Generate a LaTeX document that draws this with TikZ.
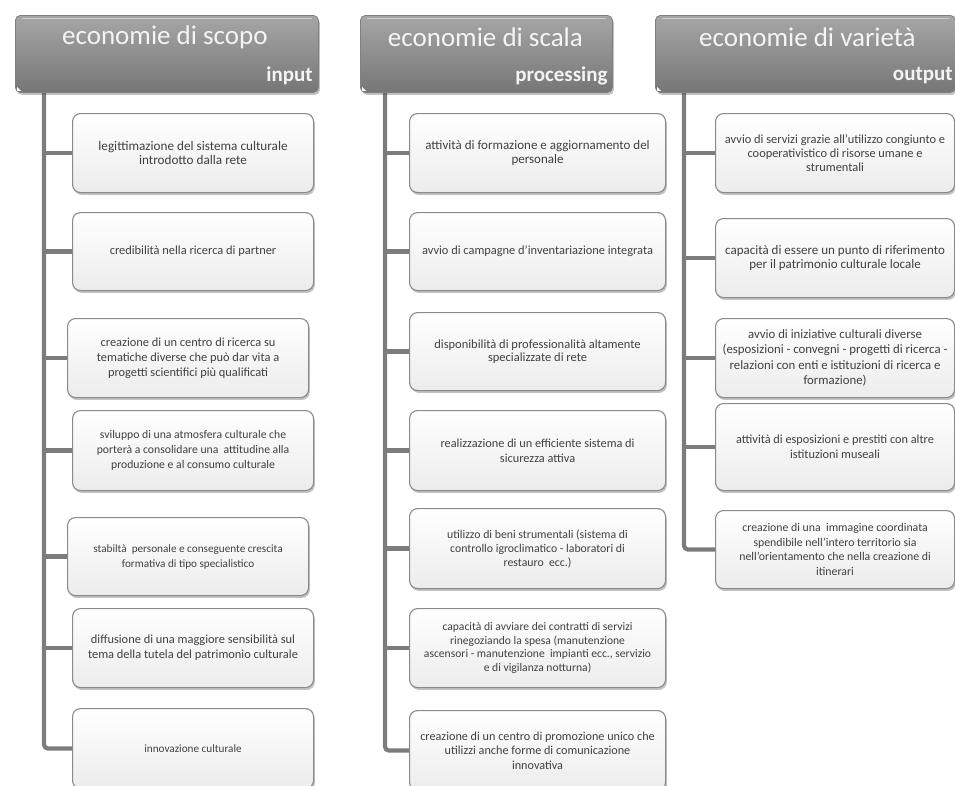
\documentclass[tikz,border=0pt]{standalone}
\usepackage{fontspec}
\setmainfont{Carlito}
\usetikzlibrary{shadows,calc}
\definecolor{boxline}{HTML}{8A8A8A}
\definecolor{boxfill}{HTML}{ECECEC}
\definecolor{txt}{HTML}{404040}
\definecolor{trunkc}{HTML}{7C7C7C}
\definecolor{headtop}{HTML}{A6A6A6}
\definecolor{headmid}{HTML}{838383}
\definecolor{headbot}{HTML}{767676}
\definecolor{headtxt}{HTML}{F4F4F4}
\pgfdeclarelayer{bg}
\pgfsetlayers{bg,main}
\begin{document}
\begin{tikzpicture}[x=1pt,y=-1pt,
  item/.style={draw=boxline, line width=1.1pt, rounded corners=8pt,
    top color=white, bottom color=boxfill,
    drop shadow={shadow xshift=1.3pt, shadow yshift=-2.4pt, opacity=0.35, fill=black!70},
    align=center, text=txt, font=\fontsize{12}{14}\selectfont,
    inner xsep=1pt, inner ysep=2pt, anchor=north west, minimum height=79pt},
  fs/.style 2 args={font=\fontsize{#1}{#2}\selectfont},
  col1/.style={item, minimum width=241pt},
  col2/.style={item, minimum width=256pt},
  col3/.style={item, minimum width=239pt},
  head/.style={draw=black!50, line width=0.8pt, rounded corners=5pt,
    top color=headtop, middle color=headmid, bottom color=headbot,
    drop shadow={shadow xshift=1.5pt, shadow yshift=-2.5pt, opacity=0.35, fill=black!70},
    anchor=north west, minimum height=77pt, inner sep=0pt},
  headtitle/.style={text=headtxt, font=\fontsize{27}{30}\selectfont, inner sep=0pt},
  headsub/.style={text=headtxt, font=\fontsize{21}{24}\selectfont\bfseries, inner sep=0pt, anchor=east},
  trunk/.style={draw=trunkc, line width=4.2pt, rounded corners=4pt},
  stub/.style={draw=trunkc, line width=4.2pt}]

\useasboundingbox (0,0) rectangle (955,785);
\clip (0,0) rectangle (955,785);

% column headers
\node[head, minimum width=303pt] (h1) at (15,15) {};
\node[head, minimum width=252pt] (h2) at (360,15) {};
\node[head, minimum width=300pt] (h3) at (655,15) {};
\foreach \h in {h1,h2,h3}{
  \draw[white, opacity=0.45, line width=1pt]
    ($(\h.north west)+(7,3)$) -- ($(\h.north east)+(-7,3)$);
  \fill[white] ($(\h.south west)+(2,-2)$) -- ++(4,0) -- ++(-4,-4) -- cycle;
}
\node[headtitle] (h1t) at ($(h1.north)+(-2,22)$) {economie di scopo};
\node[headtitle] (h2t) at ($(h2.north)+(-1,22)$) {economie di scala};
\node[headtitle] (h3t) at ($(h3.north)+(2,22)$) {economie di varietà};
\node[headsub] (h1s) at ($(h1.south east)+(-6,-17)$) {input};
\node[headsub] (h2s) at ($(h2.south east)+(-5,-17)$) {processing};
\node[headsub] (h3s) at ($(h3.south east)+(-3,-17)$) {output};

% trunk starting points under the headers
\coordinate (s1) at (44,92);
\coordinate (s2) at (385,92);
\coordinate (s3) at (684,92);

% input column
\node[col1, fs={13.2}{13.5}] (a1) at (72,113) {legittimazione del sistema culturale\\introdotto dalla rete};
\node[col1, fs={12.4}{14}, minimum height=78pt] (a2) at (72,212) {credibilità nella ricerca di partner};
\node[col1, fs={12.4}{15}] (a3) at (67,318) {creazione di un centro di ricerca su\\tematiche diverse che può dar vita a\\progetti scientifici più qualificati};
\node[col1, fs={11.7}{15}, minimum height=80pt] (a4) at (72,410) {sviluppo di una atmosfera culturale che\\porterà a consolidare una\ \ attitudine alla\\produzione e al consumo culturale};
\node[col1, fs={11.2}{15}, minimum height=78pt] (a5) at (67,517) {stabiltà\ \ personale e conseguente crescita\\formativa di tipo specialistico};
\node[col1, fs={12.4}{15}] (a6) at (72,608) {diffusione di una maggiore sensibilità sul\\tema della tutela del patrimonio culturale};
\node[col1, fs={11.2}{14}, minimum height=80pt] (a7) at (72,708) {innovazione culturale};

% processing column
\node[col2, fs={13}{13.5}] (b1) at (409,113) {attività di formazione e aggiornamento del\\personale};
\node[col2, fs={12.4}{14}, minimum height=78pt] (b2) at (409,212) {avvio di campagne d'inventariazione integrata};
\node[col2, fs={12.5}{13.5}, minimum height=78pt] (b3) at (409,312) {disponibilità di professionalità altamente\\specializzate di rete};
\node[col2, fs={12.3}{15}, minimum height=80pt] (b4) at (409,410) {realizzazione di un efficiente sistema di\\sicurezza attiva};
\node[col2, fs={11.8}{14}, minimum height=80pt] (b5) at (409,508) {utilizzo di beni strumentali (sistema di\\controllo igroclimatico - laboratori di\\restauro\ \ ecc.)};
\node[col2, fs={11.6}{13.7}] (b6) at (409,608) {capacità di avviare dei contratti di servizi\\rinegoziando la spesa (manutenzione\\ascensori - manutenzione\ \ impianti ecc., servizio\\e di vigilanza notturna)};
\node[col2, fs={12.2}{14.5}, minimum height=80pt] (b7) at (409,710) {creazione di un centro di promozione unico che\\utilizzi anche forme di comunicazione\\innovativa};

% output column
\node[col3, fs={12.4}{14.2}] (c1) at (715,113) {avvio di servizi grazie all'utilizzo congiunto e\\cooperativistico di risorse umane e\\strumentali};
\node[col3, fs={13}{14.3}] (c2) at (715,218) {capacità di essere un punto di riferimento\\per il patrimonio culturale locale};
\node[col3, fs={12.8}{15.3}] (c3) at (715,318) {avvio di iniziative culturali diverse\\(esposizioni - convegni - progetti di ricerca -\\relazioni con enti e istituzioni di ricerca e\\formazione)};
\node[col3, fs={12.3}{15}, minimum height=87pt] (c4) at (715,403) {attività di esposizioni e prestiti con altre\\istituzioni museali};
\node[col3, fs={11.8}{14.5}, minimum height=78pt] (c5) at (715,510) {creazione di una\ \ immagine coordinata\\spendibile nell'intero territorio sia\\nell'orientamento che nella creazione di\\itinerari};

% connectors: one trunk per column with a stub to each box
\begin{pgfonlayer}{bg}
  \draw[trunk] (s1) |- (a7.west);
  \foreach \n in {a1,a2,a3,a4,a5,a6}{\draw[stub] (s1 |- \n.west) -- (\n.west);}
  \draw[trunk] (s2) |- (b7.west);
  \foreach \n in {b1,b2,b3,b4,b5,b6}{\draw[stub] (s2 |- \n.west) -- (\n.west);}
  \draw[trunk] (s3) |- (c5.west);
  \foreach \n in {c1,c2,c3,c4}{\draw[stub] (s3 |- \n.west) -- (\n.west);}
\end{pgfonlayer}
\end{tikzpicture}
\end{document}
